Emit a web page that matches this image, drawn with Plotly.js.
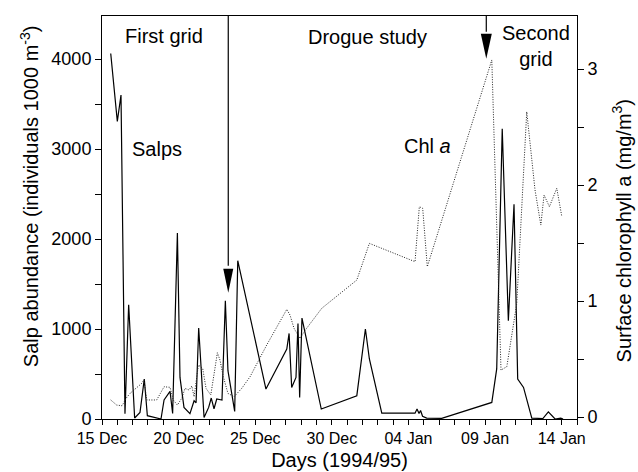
<!DOCTYPE html>
<html>
<head>
<meta charset="utf-8">
<script src="https://cdn.plot.ly/plotly-3.0.1.min.js"></script>
<style>html,body{margin:0;padding:0;background:#fff;}#chart{width:638px;height:472px;}</style>
</head>
<body>
<div id="chart"></div>
<script>
// Days since 15 Dec 1994
const salpDays = [0.57,1.00,1.24,1.50,1.74,2.13,2.48,2.76,2.96,3.85,4.05,4.44,4.61,4.92,5.09,5.35,5.74,6.01,6.14,6.31,6.44,6.66,6.96,7.13,7.31,7.49,7.83,8.05,8.22,8.66,8.86,10.70,12.06,12.21,12.38,12.66,12.79,12.90,13.05,14.31,16.63,17.19,17.45,18.26,20.43,20.56,20.69,20.79,20.92,21.19,22.17,25.44,25.76,26.12,26.52,26.89,27.13,27.51,28.05,28.77,29.13,29.57,29.94,30.09];
const salpValues = [4062,3307,3600,59,1270,11,73,444,37,0,211,307,62,2067,462,129,59,203,180,1011,648,18,129,233,114,222,211,1314,537,84,1759,333,778,951,351,462,1062,240,1122,111,259,1000,667,65,65,110,60,95,30,10,8,184,556,3226,1092,2387,444,351,10,5,80,0,10,0];

const chlDays = [0.57,0.96,1.31,1.57,1.83,2.59,2.74,2.92,3.57,3.83,4.05,4.44,4.65,4.92,5.20,5.42,5.68,5.86,6.01,6.29,6.57,6.79,7.10,7.53,7.70,7.92,8.22,8.62,9.12,9.66,10.75,12.06,12.27,12.53,12.92,13.27,14.34,16.63,17.45,20.43,20.71,20.93,21.23,25.44,26.04,26.42,27.07,27.72,28.26,28.64,28.85,29.20,29.68,30.01];
const chlValues = [0.147,0.103,0.097,0.161,0.204,0.29,0.32,0.147,0.147,0.204,0.261,0.256,0.147,0.103,0.161,0.247,0.233,0.267,0.175,0.448,0.42,0.247,0.19,0.554,0.491,0.347,0.204,0.175,0.247,0.347,0.621,0.928,0.879,0.765,0.678,0.75,0.937,1.181,1.497,1.339,1.813,1.799,1.296,3.078,0.405,0.434,0.98,2.632,1.957,1.655,1.914,1.813,1.972,1.727];

const xTickVals = [0,5,10,15,20,25,30];
const xTickText = ['15 Dec','20 Dec','25 Dec','30 Dec','04 Jan','09 Jan','14 Jan'];

// Period arrows (day, salp-axis value of arrow tip)
const arrowDays = [8.24, 25.08];
const arrowTips = [1403, 4003];

const salpRange = [0, 4478];
const chlRange = [-0.017, 3.457];
const FONT = 'Liberation Sans, Arial, Helvetica, sans-serif';

const traces = [
  {x: salpDays, y: salpValues, type: 'scatter', mode: 'lines', yaxis: 'y',
   line: {color: '#000', width: 1.2}, hoverinfo: 'skip'},
  {x: chlDays, y: chlValues, type: 'scatter', mode: 'lines', yaxis: 'y2',
   line: {color: '#222', width: 1, dash: '1px,1.5px'}, hoverinfo: 'skip'}
];

const shapes = [];
arrowDays.forEach((d, i) => {
  shapes.push({type: 'line', xref: 'x', yref: 'y', x0: d, x1: d, y0: arrowTips[i] + 300, y1: salpRange[1],
               line: {color: '#000', width: 1.2}});
  const w = i === 0 ? 5 : 5.5, h = i === 0 ? 24 : 25;
  shapes.push({type: 'path', xref: 'x', yref: 'y', xsizemode: 'pixel', ysizemode: 'pixel',
               xanchor: d, yanchor: arrowTips[i],
               path: 'M0,0 L' + (-w) + ',' + h + ' L' + w + ',' + h + ' Z',
               fillcolor: '#000', line: {width: 0}});
});

const annFont = {family: FONT, size: 20, color: '#000'};
const annotations = [
  {text: 'First grid', x: 0.1305, y: 0.950},
  {text: 'Salps', x: 0.1158, y: 0.670},
  {text: 'Drogue study', x: 0.558, y: 0.948},
  {text: 'Chl <i>a</i>', x: 0.686, y: 0.677},
  {text: 'Second<br>grid', x: 0.913, y: 0.925},
  {text: 'Salp abundance (individuals 1000 m<sup>-3</sup>)', x: -0.1537, y: 0.553, textangle: -90},
  {text: 'Surface chlorophyll a (mg/m<sup>3</sup>)', x: 1.0935, y: 0.4665, textangle: -90}
].map(a => Object.assign({xref: 'paper', yref: 'paper', showarrow: false,
  xanchor: 'center', yanchor: 'middle', font: annFont}, a));

const layout = {
  width: 638, height: 472,
  margin: {l: 102, r: 61, t: 16, b: 53},
  paper_bgcolor: '#fff', plot_bgcolor: '#fff',
  showlegend: false,
  font: {family: FONT, color: '#000'},
  xaxis: {
    range: [0, 31], tickmode: 'array', tickvals: xTickVals, ticktext: xTickText,
    ticks: 'outside', ticklen: 5, tickwidth: 1, tickcolor: '#000',
    minor: {tickmode: 'linear', tick0: 0, dtick: 1, ticks: 'outside', ticklen: 5, tickcolor: '#000', showgrid: false},
    showline: true, linecolor: '#000', linewidth: 1, mirror: true,
    showgrid: false, zeroline: false,
    tickfont: {family: FONT, size: 16, color: '#000'},
    title: {text: 'Days (1994/95)', font: {family: FONT, size: 20, color: '#000'}, standoff: 6}
  },
  yaxis: {
    range: salpRange, tickmode: 'linear', tick0: 0, dtick: 1000,
    ticks: 'outside', ticklen: 6, tickcolor: '#000',
    minor: {dtick: 500, ticks: 'outside', ticklen: 6, tickcolor: '#000', showgrid: false},
    showline: true, linecolor: '#000', linewidth: 1,
    showgrid: false, zeroline: false,
    tickfont: {family: FONT, size: 18, color: '#000'}
  },
  yaxis2: {
    overlaying: 'y', side: 'right', range: chlRange, tickmode: 'linear', tick0: 0, dtick: 1,
    ticks: 'outside', ticklen: 6, tickcolor: '#000',
    minor: {dtick: 0.5, ticks: 'outside', ticklen: 6, tickcolor: '#000', showgrid: false},
    showline: true, linecolor: '#000', linewidth: 1,
    showgrid: false, zeroline: false,
    tickfont: {family: FONT, size: 18, color: '#000'}
  },
  shapes: shapes,
  annotations: annotations
};

Plotly.newPlot('chart', traces, layout, {displayModeBar: false, staticPlot: true});
</script>
</body>
</html>
